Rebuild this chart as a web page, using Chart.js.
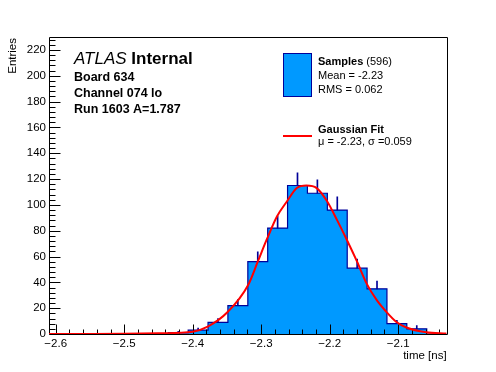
<!DOCTYPE html>
<html>
<head>
<meta charset="utf-8">
<script src="https://cdn.jsdelivr.net/npm/chart.js@4.4.1/dist/chart.umd.min.js"></script>
<style>
  html, body { margin: 0; padding: 0; background: #ffffff; }
  #wrap { width: 496px; height: 372px; }
</style>
</head>
<body>
<div id="wrap"><canvas id="histChart" width="496" height="372"></canvas></div>
<script>
// histogram bins (edges), entries per bin
const binEdges = [-2.6098, -2.5808, -2.5517, -2.5227, -2.4937, -2.4647, -2.4356, -2.4066, -2.3776, -2.3486,
                  -2.3195, -2.2905, -2.2615, -2.2325, -2.2034, -2.1744, -2.1454, -2.1164, -2.0874, -2.0583, -2.0293];
const counts = [0, 0, 0, 0, 0, 0, 1, 3, 9, 22, 56, 82, 115, 109, 96, 51, 35, 8, 4, 0];
// top end of the error bar of each bin (null where nothing is visible)
const errTop = [null, null, null, null, null, null, 2.0, 4.5, 12, 26.7, 63.7, 91.4, 124.9, 119.3, 106.3, 58, 41, 10.5, 6.5, null];

// gaussian fit curve
const fitX = [-2.6098, -2.55, -2.50, -2.45, -2.40, -2.378, -2.349, -2.319, -2.305, -2.292, -2.277, -2.262, -2.248,
              -2.234, -2.219, -2.204, -2.189, -2.175, -2.160, -2.146, -2.131, -2.117, -2.103, -2.088, -2.059, -2.0293];
const fitY = [0, 0, 0.1, 0.5, 1.8, 5.7, 17, 38, 56, 73, 91, 103, 113,
              115, 113, 103, 88, 73, 56, 39, 26, 17, 9.5, 5, 1.3, 0.3];

const xTicks = [-2.6, -2.5, -2.4, -2.3, -2.2, -2.1];
const yTicks = [0, 20, 40, 60, 80, 100, 120, 140, 160, 180, 200, 220];
const xMinorStep = 0.02;
const yMinorStep = 4;

const fillColor = '#0099ff';
const lineColor = '#000099';
const fitColor = '#ff0000';
const fontFamily = '"Liberation Sans", Arial, Helvetica, sans-serif';

// step outline points: value of bin i holds from edge i to edge i+1
const stepData = counts.map((c, i) => ({ x: binEdges[i], y: c }));
stepData.push({ x: binEdges[binEdges.length - 1], y: 0 });

const errData = [];
counts.forEach((c, i) => {
    if (errTop[i] !== null) {
        errData.push({ x: (binEdges[i] + binEdges[i + 1]) / 2, y: [c, errTop[i]] });
    }
});

const fitData = fitX.map((x, i) => ({ x: x, y: fitY[i] }));

function fmtTick(v) {
    const s = Math.abs(v) < 1e-9 ? '0' : String(v);
    return s.replace('-', '\u2212');
}

// frame box plus ROOT style inward ticks, drawn just after the histogram
const framePlugin = {
    id: 'frame',
    afterDatasetDraw(chart, args) {
        if (args.index !== 2) return;
        const ctx = chart.ctx;
        const a = chart.chartArea;
        const xs = chart.scales.x;
        const ys = chart.scales.y;
        ctx.save();
        ctx.strokeStyle = '#000000';
        ctx.lineWidth = 1;
        ctx.beginPath();
        ctx.rect(Math.round(a.left) + 0.5, Math.round(a.top) + 0.5,
                 Math.round(a.right - a.left), Math.round(a.bottom - a.top));
        // x ticks
        const y0 = Math.round(a.bottom) + 0.5;
        for (let v = -2.62; v <= xs.max + 1e-9; v += xMinorStep) {
            if (v < xs.min) continue;
            const px = Math.round(xs.getPixelForValue(v)) + 0.5;
            const major = xTicks.some(t => Math.abs(t - v) < 1e-6);
            ctx.moveTo(px, y0);
            ctx.lineTo(px, y0 - (major ? 10 : 5));
        }
        // y ticks
        const x0 = Math.round(a.left) + 0.5;
        for (let v = 0; v <= ys.max + 1e-9; v += yMinorStep) {
            const py = Math.round(ys.getPixelForValue(v)) + 0.5;
            const major = v % 20 === 0;
            ctx.moveTo(x0, py);
            ctx.lineTo(x0 + (major ? 11 : 6), py);
        }
        ctx.stroke();
        ctx.restore();
    },
    afterDraw(chart) {
        const ctx = chart.ctx;
        const a = chart.chartArea;
        ctx.save();
        ctx.fillStyle = '#000000';
        ctx.textBaseline = 'alphabetic';

        // axis titles
        ctx.font = '11.5px ' + fontFamily;
        ctx.textAlign = 'right';
        ctx.fillText('time [ns]', a.right, 359);
        ctx.save();
        ctx.translate(16, a.top + 1);
        ctx.rotate(-Math.PI / 2);
        ctx.fillText('Entries', 0, 0);
        ctx.restore();

        // ATLAS label block
        ctx.textAlign = 'left';
        ctx.font = 'italic 17px ' + fontFamily;
        ctx.fillText('ATLAS', 74, 64);
        const w = ctx.measureText('ATLAS ').width;
        ctx.font = 'bold 17px ' + fontFamily;
        ctx.fillText('Internal', 74 + w, 64);
        ctx.font = 'bold 12.5px ' + fontFamily;
        ctx.fillText('Board 634', 74, 81);
        ctx.fillText('Channel 074 lo', 74, 97);
        ctx.fillText('Run 1603 A=1.787', 74, 113);

        // legend
        ctx.fillStyle = fillColor;
        ctx.fillRect(283.5, 53.5, 28, 43);
        ctx.strokeStyle = lineColor;
        ctx.lineWidth = 1;
        ctx.strokeRect(283.5, 53.5, 28, 43);
        ctx.strokeStyle = fitColor;
        ctx.lineWidth = 2;
        ctx.beginPath();
        ctx.moveTo(283, 136);
        ctx.lineTo(312, 136);
        ctx.stroke();

        ctx.fillStyle = '#000000';
        ctx.font = 'bold 11px ' + fontFamily;
        ctx.fillText('Samples', 318, 65);
        const ws = ctx.measureText('Samples').width;
        ctx.font = '11px ' + fontFamily;
        ctx.fillText(' (596)', 318 + ws, 65);
        ctx.fillText('Mean = -2.23', 318, 79);
        ctx.fillText('RMS = 0.062', 318, 93);
        ctx.font = 'bold 11px ' + fontFamily;
        ctx.fillText('Gaussian Fit', 318, 132.5);
        ctx.font = '11px ' + fontFamily;
        ctx.fillText('\u03bc = -2.23, \u03c3 =0.059', 318, 145);
        ctx.restore();
    }
};

const ctx = document.getElementById('histChart').getContext('2d');
new Chart(ctx, {
    type: 'line',
    data: {
        datasets: [{
            label: 'Gaussian Fit',
            data: fitData,
            borderColor: fitColor,
            borderWidth: 2,
            pointRadius: 0,
            tension: 0.4,
            cubicInterpolationMode: 'monotone',
            fill: false,
            order: 0
        }, {
            type: 'bar',
            label: 'errors',
            data: errData,
            backgroundColor: lineColor,
            barThickness: 1,
            borderWidth: 0,
            order: 1
        }, {
            label: 'Samples',
            data: stepData,
            stepped: true,
            borderColor: lineColor,
            borderWidth: 1.2,
            backgroundColor: fillColor,
            fill: 'origin',
            pointRadius: 0,
            tension: 0,
            order: 2
        }]
    },
    options: {
        responsive: false,
        animation: false,
        devicePixelRatio: 1,
        layout: { padding: { left: 0, top: 37, right: 49.4, bottom: 0 } },
        plugins: {
            legend: { display: false },
            tooltip: { enabled: false }
        },
        scales: {
            x: {
                type: 'linear',
                offset: false,
                min: binEdges[0],
                max: binEdges[binEdges.length - 1],
                grid: { display: false, drawTicks: false, offset: false },
                border: { display: false },
                ticks: {
                    color: '#000000',
                    font: { family: fontFamily, size: 11.5 },
                    padding: 3,
                    maxRotation: 0,
                    autoSkip: false,
                    callback: v => fmtTick(v)
                },
                afterBuildTicks: s => { s.ticks = xTicks.map(v => ({ value: v })); },
                afterFit: s => { s.height = 38; }
            },
            y: {
                type: 'linear',
                min: 0,
                max: 230,
                grid: { display: false, drawTicks: false },
                border: { display: false },
                ticks: {
                    color: '#000000',
                    font: { family: fontFamily, size: 11.5 },
                    padding: 3,
                    autoSkip: false,
                    callback: v => fmtTick(v)
                },
                afterBuildTicks: s => { s.ticks = yTicks.map(v => ({ value: v })); },
                afterFit: s => { s.width = 49; }
            }
        }
    },
    plugins: [framePlugin]
});
</script>
</body>
</html>
